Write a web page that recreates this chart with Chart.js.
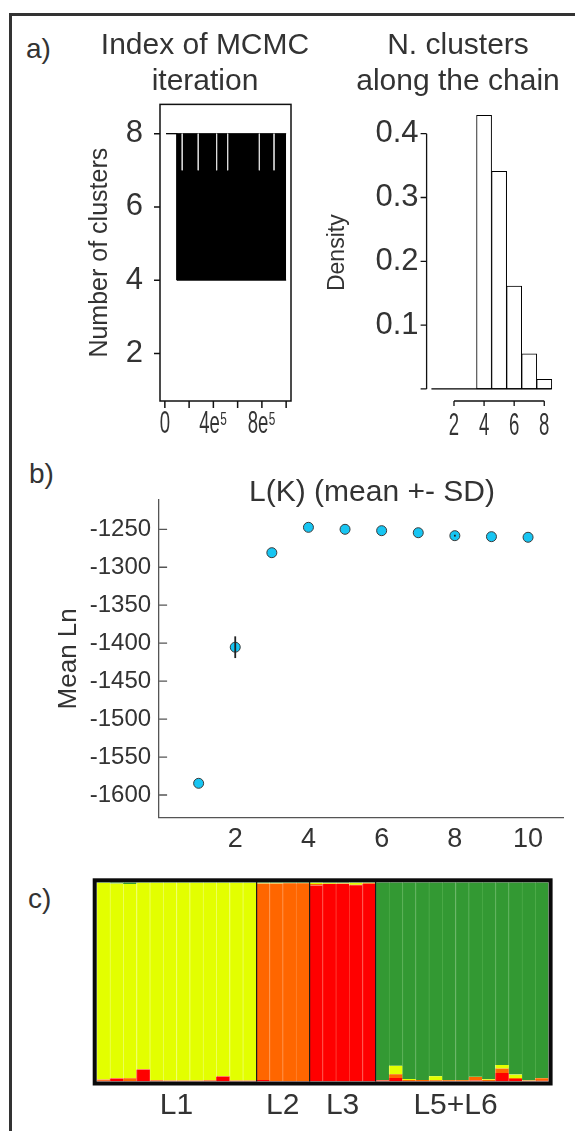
<!DOCTYPE html>
<html lang="en">
<head>
<meta charset="UTF-8">
<title>Number of clusters, L(K) and admixture</title>
<style>
  html, body { margin: 0; padding: 0; background: #fff; overflow: hidden; }
  body { width: 575px; height: 1131px; position: relative; font-family: "Liberation Sans", Arial, sans-serif; color: #333; }
  .frame { position: absolute; left: 9px; top: 13px; width: 700px; height: 1200px; border-top: 3px solid #333; border-left: 3px solid #333; }
  .tag { position: absolute; font-size: 28px; line-height: 28px; }
  canvas { position: absolute; }
</style>
</head>
<body>
<div class="frame"></div>
<div class="tag" style="left:26px;top:35px">a)</div>
<div class="tag" style="left:29px;top:460px">b)</div>
<div class="tag" style="left:28px;top:885px">c)</div>
<canvas id="trace" width="250" height="445" style="left:80px;top:0"></canvas>
<canvas id="hist" width="276" height="445" style="left:320px;top:0"></canvas>
<canvas id="lk" width="684" height="420" style="left:30px;top:440px"></canvas>
<canvas id="admix" width="575" height="271" style="left:0;top:860px"></canvas>
<script src="https://cdn.jsdelivr.net/npm/chart.js"></script>
<script>
// a) number of clusters along the MCMC chain (range of K per iteration)
const chainIter = [10000, 100000, 100000, 1000000];
const chainMax = [8, 8, 8, 8];
const chainMin = [8, 8, 4, 4];
const dipIter = [143000, 275000, 427000, 518000, 779000, 900000];
const dipLow = 7;
const traceXTicks = [0, 200000, 400000, 600000, 800000, 1000000];
const traceXLabels = ['0', '', '4e⁵', '', '8e⁵', ''];
const traceYTicks = [2, 4, 6, 8];

// a) posterior of K
const histK = [1, 2, 3, 4, 5, 6, 7, 8];
const histDensity = [0, 0, 0, 0.429, 0.341, 0.161, 0.055, 0.015];
const histXTicks = [2, 4, 6, 8];
const histXLabels = ['2', '4', '6', '8'];
const histYTicks = [0, 0.1, 0.2, 0.3, 0.4];
const histYLabels = ['', '0.1', '0.2', '0.3', '0.4'];

// b) mean log likelihood per K
const lkK = [1, 2, 3, 4, 5, 6, 7, 8, 9, 10];
const lkMean = [-1584.6, -1405.3, -1280.8, -1247.4, -1250.0, -1251.8, -1254.5, -1258.4, -1259.7, -1260.5];
const lkSD = [0, 14.3, 0, 0, 0, 0, 0, 1.2, 0, 0];
const lkXTicks = [2, 4, 6, 8, 10];
const lkYTicks = [-1600, -1550, -1500, -1450, -1400, -1350, -1300, -1250];

// c) membership coefficients, one column per individual
const individuals = ['1','2','3','4','5','6','7','8','9','10','11','12','13','14','15','16','17',
  '18','19','20','21','22','23','24','25','26','27','28','29','30','31','32','33','34'];
const qRed = [0.004, 0.015, 0.003, 0.060, 0.004, 0.003, 0.003, 0.003, 0.004, 0.025, 0.003, 0.003,
  0.008, 0.003, 0.003, 0.003,
  0.984, 0.991, 0.992, 0.985, 0.992,
  0.005, 0.017, 0.002, 0.002, 0.001, 0.002, 0.002, 0.005, 0.002, 0.043, 0.012, 0.002, 0.004];
const qOrange = [0.006, 0.002, 0.013, 0.002, 0.002, 0.002, 0.002, 0.002, 0.002, 0.002, 0.002, 0.002,
  0.986, 0.991, 0.992, 0.992,
  0.007, 0.002, 0.002, 0.003, 0.003,
  0.002, 0.019, 0.005, 0.005, 0.005, 0.004, 0.004, 0.017, 0.005, 0.022, 0.006, 0.003, 0.012];
const qYellow = [0.988, 0.977, 0.975, 0.936, 0.992, 0.993, 0.993, 0.993, 0.992, 0.971, 0.993, 0.993,
  0.002, 0.002, 0.002, 0.002,
  0.007, 0.004, 0.002, 0.010, 0.003,
  0.001, 0.043, 0.005, 0.001, 0.020, 0.001, 0.001, 0.002, 0.004, 0.018, 0.017, 0.001, 0.002];
const qGreen = [0.002, 0.006, 0.009, 0.002, 0.002, 0.002, 0.002, 0.002, 0.002, 0.002, 0.002, 0.002,
  0.004, 0.004, 0.003, 0.003,
  0.002, 0.003, 0.004, 0.002, 0.002,
  0.992, 0.921, 0.988, 0.992, 0.974, 0.993, 0.993, 0.976, 0.989, 0.917, 0.965, 0.994, 0.982];
const groupNames = ['L1', 'L2', 'L3', 'L5+L6'];
const groupCenters = [6, 14, 18.5, 27];
const groupBreaks = [12, 16, 21];

Chart.defaults.font.family = '"Liberation Sans", Arial, sans-serif';
Chart.defaults.color = '#333';
Chart.defaults.animation = false;
Chart.defaults.plugins.legend.display = false;
Chart.defaults.plugins.tooltip.enabled = false;

const noGrid = { display: false, drawTicks: false, offset: false };
const setTicks = vals => s => { s.ticks = vals.map(v => ({ value: v })); };
// empty box on the right so the full-width title centres where it should
const spacer = w => ({
  type: 'linear', position: 'right', grid: noGrid, border: { display: false },
  ticks: { display: false }, afterFit: s => { s.width = w; }
});

// axes drawn like R base graphics: line between outer ticks, short tick marks
function baseAxes(cfg) {
  return {
    id: 'baseAxes',
    afterDraw(chart) {
      const { ctx, chartArea: a } = chart;
      ctx.save();
      ctx.strokeStyle = cfg.color || '#111';
      ctx.lineWidth = cfg.lineWidth || 1.3;
      if (cfg.box) ctx.strokeRect(a.left, a.top, a.right - a.left, a.bottom - a.top);
      cfg.axes.forEach(ax => {
        const s = chart.scales[ax.id];
        const px = s.ticks.map(t => s.getPixelForValue(t.value));
        ctx.beginPath();
        if (s.isHorizontal()) {
          const y = a.bottom;
          if (ax.line) { ctx.moveTo(px[0], y); ctx.lineTo(px[px.length - 1], y); }
          px.forEach(x => { ctx.moveTo(x, y); ctx.lineTo(x, y + ax.len); });
        } else {
          const x = a.left;
          if (ax.line) { ctx.moveTo(x, px[0]); ctx.lineTo(x, px[px.length - 1]); }
          px.forEach(y => { ctx.moveTo(x, y); ctx.lineTo(x - ax.len, y); });
        }
        ctx.stroke();
      });
      ctx.restore();
    }
  };
}

// condensed tick labels under the x axis
function narrowLabels(cfg) {
  return {
    id: 'narrowLabels',
    afterDraw(chart) {
      const { ctx, chartArea: a } = chart;
      const s = chart.scales.x;
      ctx.save();
      ctx.fillStyle = '#333';
      ctx.font = cfg.size + 'px "Liberation Sans", Arial, sans-serif';
      ctx.textAlign = 'center';
      ctx.textBaseline = 'alphabetic';
      s.ticks.forEach((t, i) => {
        const text = cfg.labels[i];
        if (!text) return;
        ctx.save();
        ctx.translate(s.getPixelForValue(t.value), a.bottom + cfg.baseline);
        ctx.scale(cfg.squeeze, 1);
        ctx.fillText(text, 0, 0);
        ctx.restore();
      });
      ctx.restore();
    }
  };
}

const topTitle = text => ({
  display: true, text: text, color: '#333',
  font: { size: 30, weight: 'normal', lineHeight: 1.223 },
  padding: { top: 27, bottom: 4 }
});

// ---- a) trace
const dipPoints = [];
dipIter.forEach(it => {
  dipPoints.push({ x: it, y: chainMax[chainMax.length - 1] }, { x: it, y: dipLow }, { x: it, y: null });
});

new Chart(document.getElementById('trace'), {
  type: 'line',
  data: {
    datasets: [
      { data: chainIter.map((x, i) => ({ x: x, y: chainMax[i] })), borderColor: '#000', backgroundColor: '#000',
        borderWidth: 1, pointRadius: 0, fill: '+1', order: 1 },
      { data: chainIter.map((x, i) => ({ x: x, y: chainMin[i] })), borderColor: '#000',
        borderWidth: 1, pointRadius: 0, fill: false, order: 1 },
      { data: dipPoints, borderColor: 'rgba(225,225,225,0.85)', borderWidth: 1, pointRadius: 0,
        spanGaps: false, fill: false, order: 0 }
    ]
  },
  options: {
    responsive: false,
    layout: { padding: 0 },
    plugins: { title: topTitle(['Index of MCMC', 'iteration']) },
    scales: {
      x: {
        type: 'linear', min: -40000, max: 1040000,
        grid: noGrid, border: { display: false },
        afterBuildTicks: setTicks(traceXTicks),
        afterFit: s => { s.height = 44; },
        ticks: { display: false }
      },
      y: {
        min: 0.7, max: 8.8,
        grid: noGrid, border: { display: false },
        afterBuildTicks: setTicks(traceYTicks),
        afterFit: s => { s.width = 80; },
        ticks: { padding: 17, font: { size: 31 } },
        title: { display: true, text: 'Number of clusters', color: '#333', font: { size: 25 }, padding: { top: 5, bottom: 0 } }
      },
      pad: spacer(39)
    }
  },
  plugins: [
    baseAxes({ box: true, lineWidth: 1.5, axes: [{ id: 'x', len: 7 }, { id: 'y', len: 6 }] }),
    narrowLabels({ labels: traceXLabels, size: 32, squeeze: 0.58, baseline: 32 })
  ]
});

// ---- a) histogram
const histBase = {
  id: 'histBase',
  afterDatasetsDraw(chart) {
    const { ctx, scales: { x, y } } = chart;
    const y0 = y.getPixelForValue(0);
    ctx.save();
    ctx.strokeStyle = '#000';
    ctx.lineWidth = 1.2;
    ctx.beginPath();
    ctx.moveTo(x.getPixelForValue(histK[0] - 0.5), y0);
    ctx.lineTo(x.getPixelForValue(histK[histK.length - 1] + 0.5), y0);
    ctx.stroke();
    ctx.restore();
  }
};

new Chart(document.getElementById('hist'), {
  type: 'bar',
  data: {
    datasets: [{
      data: histK.map((k, i) => ({ x: k, y: histDensity[i] })),
      backgroundColor: '#fff', borderColor: '#000', borderWidth: 1, borderSkipped: false,
      barPercentage: 1, categoryPercentage: 1
    }]
  },
  options: {
    responsive: false,
    layout: { padding: 0 },
    plugins: { title: topTitle(['N. clusters', 'along the chain']) },
    scales: {
      x: {
        type: 'linear', min: 0.18, max: 8.82, offset: false,
        grid: noGrid, border: { display: false },
        afterBuildTicks: setTicks(histXTicks),
        afterFit: s => { s.height = 44; },
        ticks: { display: false }
      },
      y: {
        min: -0.019, max: 0.446,
        grid: noGrid, border: { display: false },
        afterBuildTicks: setTicks(histYTicks),
        afterFit: s => { s.width = 106.6; },
        ticks: { padding: 8, font: { size: 31 }, callback: (v, i) => histYLabels[i] },
        title: { display: true, text: 'Density', color: '#333', font: { size: 23 }, padding: { top: 4, bottom: 0 } }
      },
      pad: spacer(39.4)
    }
  },
  plugins: [
    histBase,
    baseAxes({ lineWidth: 1.3, axes: [{ id: 'x', len: 5, line: true }, { id: 'y', len: 6, line: true }] }),
    narrowLabels({ labels: histXLabels, size: 32, squeeze: 0.58, baseline: 34 })
  ]
});

// ---- b) L(K)
const sdBars = {
  id: 'sdBars',
  afterDatasetsDraw(chart) {
    const { ctx, scales: { x, y } } = chart;
    ctx.save();
    ctx.strokeStyle = '#222';
    ctx.lineWidth = 1.8;
    lkK.forEach((k, i) => {
      if (!lkSD[i]) return;
      const px = x.getPixelForValue(k);
      ctx.beginPath();
      ctx.moveTo(px, y.getPixelForValue(lkMean[i] - lkSD[i]));
      ctx.lineTo(px, y.getPixelForValue(lkMean[i] + lkSD[i]));
      ctx.stroke();
    });
    ctx.restore();
  }
};

new Chart(document.getElementById('lk'), {
  type: 'scatter',
  data: {
    datasets: [{
      data: lkK.map((k, i) => ({ x: k, y: lkMean[i] })),
      pointRadius: 5, pointBackgroundColor: '#17c5f2', pointBorderColor: '#3a3a3a', pointBorderWidth: 1
    }]
  },
  options: {
    responsive: false,
    layout: { padding: 0 },
    plugins: {
      title: { display: true, text: 'L(K) (mean +- SD)', color: '#333',
        font: { size: 30, weight: 'normal', lineHeight: 1.2 }, padding: { top: 34.4, bottom: -10.4 } }
    },
    scales: {
      x: {
        type: 'linear', min: -0.08, max: 10.96,
        grid: noGrid, border: { display: true, color: '#555', width: 1.3 },
        afterBuildTicks: setTicks(lkXTicks),
        afterFit: s => { s.height = 42.3; },
        ticks: { autoSkip: false, maxRotation: 0, padding: 6, font: { size: 27 } }
      },
      y: {
        min: -1629.9, max: -1211.4,
        grid: noGrid, border: { display: true, color: '#555', width: 1.3 },
        afterBuildTicks: setTicks(lkYTicks),
        afterFit: s => { s.width = 129.1; },
        ticks: { padding: 8, font: { size: 24 }, callback: v => String(v) },
        title: { display: true, text: 'Mean Ln', color: '#333', font: { size: 26 }, padding: { top: 23, bottom: 0 } }
      },
      pad: spacer(150.8)
    }
  },
  plugins: [sdBars, baseAxes({ color: '#555', lineWidth: 1.3, axes: [{ id: 'y', len: -8 }] })]
});

// ---- c) admixture bar plot
const frameBox = {
  id: 'frameBox',
  afterDraw(chart) {
    const { ctx, chartArea: a } = chart;
    ctx.save();
    ctx.strokeStyle = '#0a0a0a';
    ctx.lineWidth = 4;
    ctx.strokeRect(a.left - 2, a.top - 2, a.right - a.left + 4, a.bottom - a.top + 4);
    ctx.restore();
  }
};

const qBar = (data, fill, edge) => ({
  data: data, backgroundColor: fill, borderColor: edge,
  borderWidth: { left: 1, right: 0, top: 0, bottom: 0 }, borderSkipped: false,
  barPercentage: 1, categoryPercentage: 1
});

new Chart(document.getElementById('admix'), {
  type: 'bar',
  data: {
    labels: individuals,
    datasets: [
      qBar(qRed, '#ff0000', '#ff3a2e'),
      qBar(qOrange, '#ff6600', '#ff8533'),
      qBar(qYellow, '#e3ff00', '#edff5c'),
      qBar(qGreen, '#339933', '#4caa48')
    ]
  },
  options: {
    responsive: false,
    layout: { padding: { left: 96.7, right: 26.4, top: 22.3, bottom: 0 } },
    scales: {
      x: { stacked: true, display: false },
      y: { stacked: true, display: false, min: 0, max: 1 },
      grp: {
        type: 'linear', position: 'bottom', min: 0, max: individuals.length, offset: false,
        grid: noGrid, border: { display: false },
        afterBuildTicks: setTicks(groupCenters),
        afterFit: s => { s.height = 49.5; },
        ticks: { autoSkip: false, maxRotation: 0, padding: 6, font: { size: 30 }, callback: (v, i) => groupNames[i] }
      },
      sep: {
        type: 'linear', position: 'top', min: 0, max: individuals.length, offset: false,
        grid: { display: true, drawTicks: false, offset: false, z: 1, color: '#1a1a1a', lineWidth: 1.2 },
        border: { display: false },
        afterBuildTicks: setTicks(groupBreaks),
        afterFit: s => { s.height = 0; },
        ticks: { display: false }
      }
    }
  },
  plugins: [frameBox]
});
</script>
</body>
</html>
